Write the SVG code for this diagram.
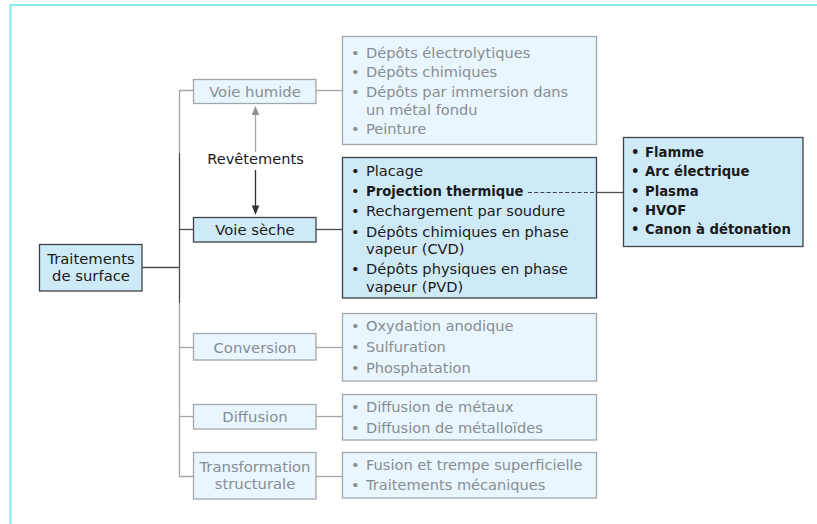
<svg xmlns="http://www.w3.org/2000/svg" width="817" height="524" viewBox="0 0 817 524">
<defs>
<style>
.t{font-family:"DejaVu Sans","Liberation Sans",sans-serif;font-size:14.6px}
.n{font-family:"DejaVu Sans","Liberation Sans",sans-serif;font-size:14.8px;text-anchor:middle}
.b{font-family:"DejaVu Sans","Liberation Sans",sans-serif;font-size:13.2px;font-weight:bold}
.g{fill:#878d93}
.d{fill:#1a1a1a}
.bg{fill:#eaf6fd;stroke:#a3a7ab;stroke-width:1.3}
.bd{fill:#cfeaf7;stroke:#3d4247;stroke-width:1.3}
.lg{stroke:#a3a7ab;stroke-width:1.3;fill:none}
.ld{stroke:#4a4e52;stroke-width:1.3;fill:none}
</style>
</defs>
<rect width="817" height="524" fill="#ffffff"/>
<path d="M10.5,524 V5 H817" fill="none" stroke="#86eef0" stroke-width="2.2"/>
<g id="traitements">
<rect class="bd" x="39.5" y="244.5" width="102.5" height="46.5"/>
<text class="n d" x="91" y="263.5">Traitements</text>
<text class="n d" x="91" y="281">de surface</text>
</g>
<g id="voie-humide">
<rect class="bg" x="193.5" y="79.5" width="122.5" height="24"/>
<text class="n g" x="255" y="97">Voie humide</text>
</g>
<g id="voie-seche">
<rect class="bd" x="193.5" y="217.5" width="122.5" height="24.5"/>
<text class="n d" x="255" y="235">Voie sèche</text>
</g>
<g id="conversion">
<rect class="bg" x="193.5" y="333.5" width="122.5" height="26.5"/>
<text class="n g" x="255" y="352.5">Conversion</text>
</g>
<g id="diffusion">
<rect class="bg" x="193.5" y="404.5" width="122.5" height="24.5"/>
<text class="n g" x="255" y="421.5">Diffusion</text>
</g>
<g id="transformation">
<rect class="bg" x="193.5" y="452.5" width="122.5" height="46.5"/>
<text class="n g" x="255" y="472">Transformation</text>
<text class="n g" x="255" y="489">structurale</text>
</g>
<g id="liste-humide">
<rect class="bg" x="342.5" y="36.5" width="254" height="108"/>
<g class="t g">
<text x="351" y="57.5">•</text><text x="366" y="57.5">Dépôts électrolytiques</text>
<text x="351" y="77">•</text><text x="366" y="77">Dépôts chimiques</text>
<text x="351" y="96.5">•</text><text x="366" y="96.5">Dépôts par immersion dans</text>
<text x="366" y="115">un métal fondu</text>
<text x="351" y="133.5">•</text><text x="366" y="133.5">Peinture</text>
</g>
</g>
<g id="liste-seche">
<rect class="bd" x="342.5" y="157.5" width="254" height="140.5"/>
<g class="t d">
<text x="351" y="176">•</text><text x="366" y="176">Placage</text>
<text x="351" y="196">•</text><text class="b" x="366" y="196">Projection thermique</text>
<text x="351" y="216">•</text><text x="366" y="216">Rechargement par soudure</text>
<text x="351" y="236.5">•</text><text x="366" y="236.5">Dépôts chimiques en phase</text>
<text x="366" y="254">vapeur (CVD)</text>
<text x="351" y="274">•</text><text x="366" y="274">Dépôts physiques en phase</text>
<text x="366" y="291.5">vapeur (PVD)</text>
</g>
</g>
<g id="liste-projection">
<rect class="bd" x="623.5" y="137.5" width="179.5" height="109"/>
<g class="b d">
<text x="631" y="156.5">•</text><text x="645" y="156.5">Flamme</text>
<text x="631" y="176">•</text><text x="645" y="176">Arc électrique</text>
<text x="631" y="195.5">•</text><text x="645" y="195.5">Plasma</text>
<text x="631" y="214.5">•</text><text x="645" y="214.5">HVOF</text>
<text x="631" y="234">•</text><text x="645" y="234">Canon à détonation</text>
</g>
</g>
<g id="liste-conversion">
<rect class="bg" x="342.5" y="313.5" width="254" height="67.5"/>
<g class="t g">
<text x="351" y="331">•</text><text x="366" y="331">Oxydation anodique</text>
<text x="351" y="352">•</text><text x="366" y="352">Sulfuration</text>
<text x="351" y="373">•</text><text x="366" y="373">Phosphatation</text>
</g>
</g>
<g id="liste-diffusion">
<rect class="bg" x="342.5" y="394.5" width="254" height="45.5"/>
<g class="t g">
<text x="351" y="412">•</text><text x="366" y="412">Diffusion de métaux</text>
<text x="351" y="432.5">•</text><text x="366" y="432.5">Diffusion de métalloïdes</text>
</g>
</g>
<g id="liste-transformation">
<rect class="bg" x="342.5" y="452.5" width="254" height="45.5"/>
<g class="t g">
<text x="351" y="470">•</text><text x="366" y="470">Fusion et trempe superficielle</text>
<text x="351" y="490">•</text><text x="366" y="490">Traitements mécaniques</text>
</g>
</g>
<g id="connectors">
<path class="lg" d="M193,90.5 H179.5 V153"/>
<path class="ld" d="M179.5,153 V303"/>
<path class="lg" d="M179.5,303 V476.5 H193"/>
<path class="ld" d="M179.5,229.5 H193"/>
<path class="ld" d="M142,267.5 H179.5"/>
<path class="lg" d="M179.5,347.5 H193"/>
<path class="lg" d="M179.5,416.5 H193"/>
<path class="lg" d="M316,90.5 H342"/>
<path class="ld" d="M316,229.5 H342"/>
<path class="lg" d="M316,347.5 H342"/>
<path class="lg" d="M316,416.5 H342"/>
<path class="lg" d="M316,476.5 H342"/>
<line x1="255.5" y1="152" x2="255.5" y2="114" stroke="#a3a7ab" stroke-width="1.3"/>
<path d="M255.5,106 L251.8,115 L259.2,115 Z" fill="#8b9197"/>
<line x1="255.5" y1="170" x2="255.5" y2="206" stroke="#2e3236" stroke-width="1.3"/>
<path d="M255.5,215 L251.8,205.5 L259.2,205.5 Z" fill="#2e3236"/>
<text class="t d" x="255.5" y="164" text-anchor="middle">Revêtements</text>
<line x1="528" y1="192.5" x2="596.5" y2="192.5" stroke="#3d4247" stroke-width="1" stroke-dasharray="4,2.2"/>
<path class="ld" d="M597,192.5 H623"/>
</g>
</svg>
